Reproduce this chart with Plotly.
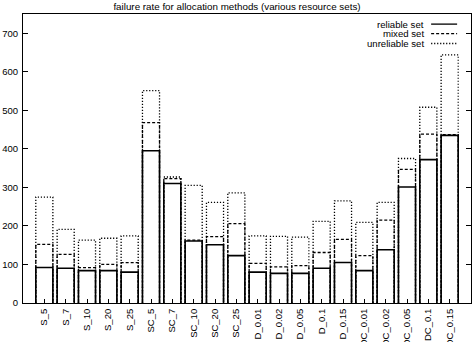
import plotly.graph_objects as go

categories = ["S_5", "S_7", "S_10", "S_20", "S_25",
              "SC_5", "SC_7", "SC_10", "SC_20", "SC_25",
              "D_0.01", "D_0.02", "D_0.05", "D_0.1", "D_0.15",
              "DC_0.01", "DC_0.02", "DC_0.05", "DC_0.1", "DC_0.15"]
reliable = [92, 90, 84, 84, 80, 395, 310, 161, 151, 123,
            80, 77, 77, 90, 105, 84, 138, 301, 372, 435]
mixed = [152, 126, 92, 100, 105, 468, 323, 163, 172, 206,
         103, 94, 97, 131, 165, 123, 215, 347, 438, 437]
unreliable = [275, 191, 163, 168, 174, 551, 327, 305, 261, 286,
              174, 173, 171, 212, 265, 209, 261, 375, 508, 644]
y_ticks = [0, 100, 200, 300, 400, 500, 600, 700]

HALF = 0.4


def box_path(values):
    xs, ys = [], []
    for i, v in enumerate(values):
        xs += [i - HALF, i - HALF, i + HALF, i + HALF, None]
        ys += [0, v, v, 0, None]
    return xs, ys


fig = go.Figure()
series = [("unreliable set", unreliable, "1.2px,1.8px", 1.3),
          ("mixed set", mixed, "3px,2px", 1.3),
          ("reliable set", reliable, "solid", 1.6)]
for name, vals, dash, w in series:
    xs, ys = box_path(vals)
    fig.add_trace(go.Scatter(x=xs, y=ys, mode="lines", name=name,
                             line=dict(color="black", width=w, dash=dash),
                             showlegend=False, hoverinfo="skip"))

# gnuplot-style legend (text right, sample line to the right)
legend_items = [("reliable set", "solid"), ("mixed set", "3px,2px"), ("unreliable set", "1.2px,1.8px")]
ys_leg = [0.965, 0.932, 0.898]
for (name, dash), yy in zip(legend_items, ys_leg):
    fig.add_annotation(x=0.897, y=yy, xref="paper", yref="paper", text=name,
                       showarrow=False, xanchor="right", yanchor="middle",
                       borderpad=0, font=dict(size=9.6, color="black"))
    fig.add_shape(type="line", xref="paper", yref="paper", x0=0.911, x1=0.969,
                  y0=yy, y1=yy, line=dict(color="black", width=1.3, dash=dash))

fig.update_layout(
    width=474, height=342,
    margin=dict(l=23, r=3, t=14, b=39, autoexpand=False),
    paper_bgcolor="white", plot_bgcolor="white",
    font=dict(family="Liberation Sans, Arial, sans-serif", size=9.5, color="black"),
    title=dict(text="failure rate for allocation methods (various resource sets)",
               x=0.5, xanchor="center", y=0.982, yanchor="middle",
               font=dict(size=9.8)),
    showlegend=False,
)
fig.update_xaxes(range=[-1, 20], tickmode="array", tickvals=list(range(len(categories))),
                 ticktext=categories, tickangle=-90, ticks="inside", ticklen=4,
                 tickcolor="black", showgrid=False, zeroline=False,
                 showline=True, linecolor="black", linewidth=1, mirror=True,
                 automargin=False, ticklabelstandoff=1)
fig.update_yaxes(range=[0, 750], tickmode="array", tickvals=y_ticks,
                 ticks="inside", ticklen=5, tickcolor="black", showgrid=False,
                 zeroline=False, showline=True, linecolor="black", linewidth=1,
                 mirror="ticks", automargin=False, ticklabelstandoff=2)

fig.write_html("out.html")
